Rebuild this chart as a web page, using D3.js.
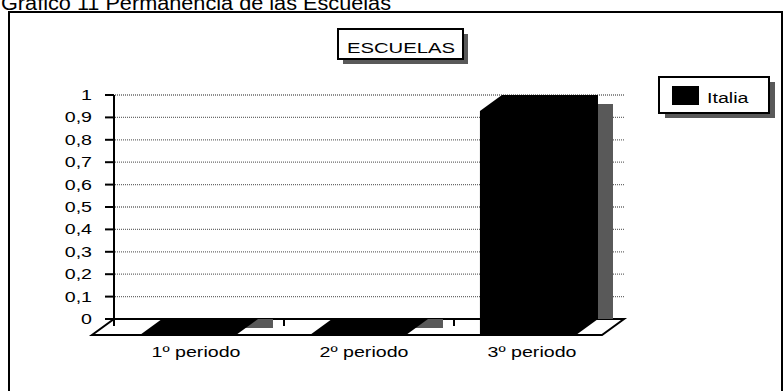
<!DOCTYPE html>
<html><head><meta charset="utf-8">
<script src="https://cdn.jsdelivr.net/npm/d3@7"></script>
<style>body{margin:0;background:#fff}svg{display:block}text{font-family:Arial,"Liberation Sans",sans-serif;fill:#000}</style>
</head><body><svg id="c" width="784" height="391"></svg>
<script>
const categories = ["1º periodo", "2º periodo", "3º periodo"];
const seriesName = "Italia";
const italia = [0, 0, 1];
const yTickValues = [0, 0.1, 0.2, 0.3, 0.4, 0.5, 0.6, 0.7, 0.8, 0.9, 1];
const yTickLabels = ["0", "0,1", "0,2", "0,3", "0,4", "0,5", "0,6", "0,7", "0,8", "0,9", "1"];
const chartTitle = "ESCUELAS";
const pageTitle = "Gráfico 11 Permanencia de las Escuelas";

const svg = d3.select("#c");
const STRETCH = 1.4;
function stretch(sel, len) {
  sel.each(function () {
    const L = len || this.getComputedTextLength() * STRETCH;
    d3.select(this).attr("textLength", L).attr("lengthAdjust", "spacingAndGlyphs");
  });
}

const DX = -22, DY = 16;
const x = d3.scaleBand().domain(categories).range([114, 624]).padding(0);
const labelX = d3.scaleBand().domain(categories).range([112, 616]);
const y = d3.scaleLinear().domain([0, 1]).range([319, 95]);
const y0 = y(0);
const bw = x.bandwidth();
const barOff = 0.282 * bw, barW = 0.565 * bw;

// page title (partly cut at top)
svg.append("text").attr("x", 1).attr("y", 10).attr("font-size", 20).text(pageTitle).call(stretch, 390);

// outer frame
svg.append("rect").attr("x", 9).attr("y", 12).attr("width", 773).attr("height", 392)
  .attr("fill", "none").attr("stroke", "#000").attr("stroke-width", 2);

// chart title box
svg.append("rect").attr("x", 343).attr("y", 34).attr("width", 125).attr("height", 30).attr("fill", "#595959");
svg.append("rect").attr("x", 338).attr("y", 29).attr("width", 125).attr("height", 30)
  .attr("fill", "#fff").attr("stroke", "#000").attr("stroke-width", 2);
svg.append("text").attr("x", 401).attr("y", 53).attr("text-anchor", "middle").attr("font-size", 15)
  .text(chartTitle).call(stretch, 108);

// gridlines
svg.append("g").selectAll("line").data(yTickValues.filter(v => v > 0)).join("line")
  .attr("x1", 115).attr("x2", 625).attr("y1", d => y(d)).attr("y2", d => y(d))
  .attr("stroke", "#6a6a6a").attr("stroke-width", 1.3).attr("stroke-dasharray", "1,1");

// floor
const xr = x.range();
svg.append("polygon")
  .attr("points", [[xr[0], y0], [xr[1], y0], [xr[1] + DX, y0 + DY], [xr[0] + DX, y0 + DY]].map(p => p.join(",")).join(" "))
  .attr("fill", "#fff").attr("stroke", "#000").attr("stroke-width", 2).attr("stroke-linejoin", "miter");

const bars = categories.map((c, i) => ({ c, v: italia[i], bl: x(c) + barOff, br: x(c) + barOff + barW }));

// shadows
svg.append("g").selectAll("rect").data(bars).join("rect")
  .attr("x", d => d.bl + 15).attr("width", barW)
  .attr("y", d => Math.min(y0, y(d.v) + 9))
  .attr("height", d => Math.abs(y(d.v) + 9 - y0))
  .attr("fill", "#595959");

// bars (3D silhouette)
svg.append("g").selectAll("polygon").data(bars).join("polygon")
  .attr("points", d => {
    const yt = y(d.v);
    return [[d.bl + DX, y0 + DY], [d.bl + DX, yt + DY], [d.bl, yt], [d.br, yt], [d.br, y0], [d.br + DX, y0 + DY]]
      .map(p => p.join(",")).join(" ");
  })
  .attr("fill", "#000");

// category separator ticks on floor
svg.append("g").selectAll("line").data(categories.slice(1)).join("line")
  .attr("x1", d => x(d)).attr("x2", d => x(d)).attr("y1", y0).attr("y2", y0 + 7)
  .attr("stroke", "#000").attr("stroke-width", 2);

// y axis
svg.append("line").attr("x1", 114).attr("x2", 114).attr("y1", y(1)).attr("y2", y0 + 7)
  .attr("stroke", "#000").attr("stroke-width", 2);
svg.append("g").selectAll("line").data(yTickValues).join("line")
  .attr("x1", 105).attr("x2", 114).attr("y1", d => y(d)).attr("y2", d => y(d))
  .attr("stroke", "#000").attr("stroke-width", 2);
svg.append("g").selectAll("text").data(yTickValues).join("text")
  .attr("x", 92).attr("y", d => y(d) + 5).attr("text-anchor", "end").attr("font-size", 14)
  .text((d, i) => yTickLabels[i]).call(stretch);

// category labels
svg.append("g").selectAll("text").data(categories).join("text")
  .attr("x", d => labelX(d) + labelX.bandwidth() / 2).attr("y", 357)
  .attr("text-anchor", "middle").attr("font-size", 14).text(d => d).call(stretch);

// legend
svg.append("rect").attr("x", 665).attr("y", 82).attr("width", 110).attr("height", 36).attr("fill", "#595959");
svg.append("rect").attr("x", 659).attr("y", 77).attr("width", 110).attr("height", 36)
  .attr("fill", "#fff").attr("stroke", "#000").attr("stroke-width", 2);
svg.append("rect").attr("x", 672).attr("y", 86).attr("width", 27).attr("height", 19).attr("fill", "#000");
svg.append("text").attr("x", 707).attr("y", 103).attr("font-size", 14).text(seriesName).call(stretch);
</script>
</body></html>
